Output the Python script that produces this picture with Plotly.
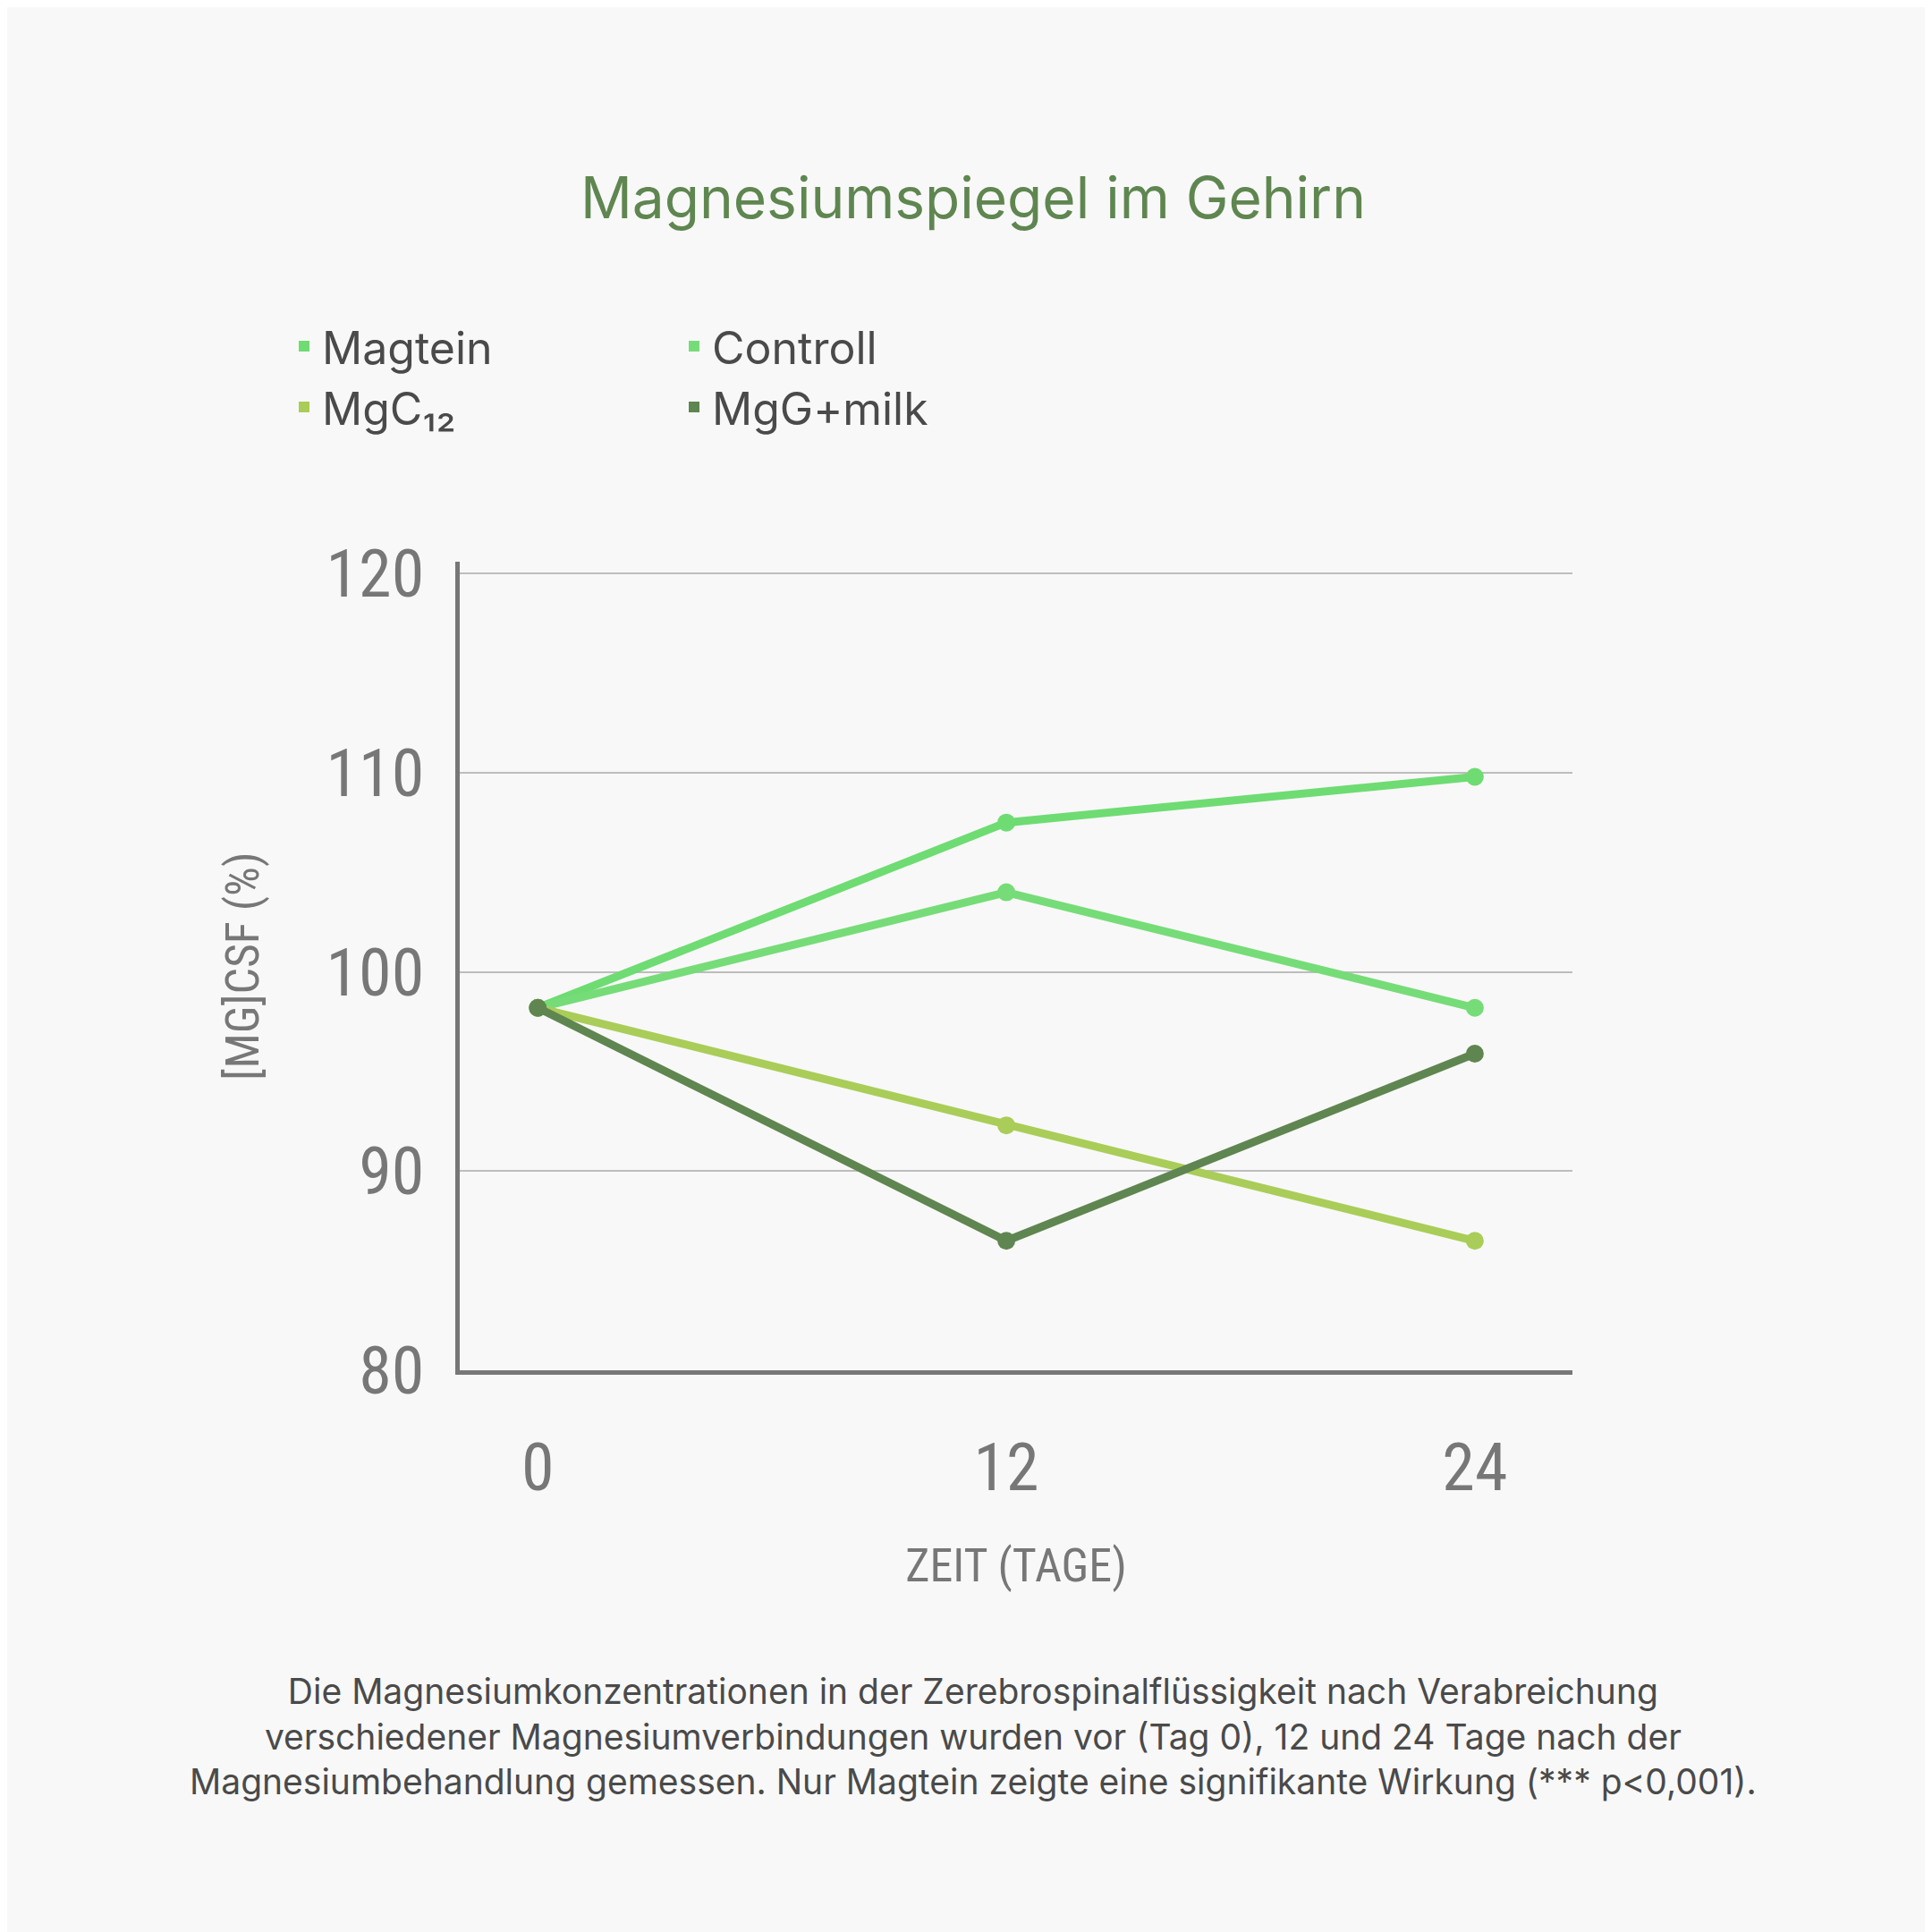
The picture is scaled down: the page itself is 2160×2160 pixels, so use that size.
import plotly.graph_objects as go

# --- data ---
tage = [0, 12, 24]
magtein = [98.2, 107.5, 109.8]
controll = [98.2, 104.0, 98.2]
mgcl2 = [98.2, 92.3, 86.5]
mgg_milk = [98.2, 86.5, 95.9]
names = ["Magtein", "Controll", "MgC₁₂", "MgG+milk"]
colors = ["#6edc72", "#76dc78", "#a9cd58", "#5f8650"]
y_ticks = [80, 90, 100, 110, 120]

W = 2160
NARROW = "Liberation Sans Narrow, Roboto Condensed, DejaVu Sans Condensed, sans-serif"

fig = go.Figure()

# draw order: lighter first, dark on top
for ys, name, col in zip([magtein, controll, mgcl2, mgg_milk], names, colors):
    fig.add_trace(go.Scatter(
        x=tage, y=ys, mode="lines+markers", name=name,
        line=dict(color=col, width=9),
        marker=dict(color=col, size=20),
        showlegend=False,
    ))

# square legend entries
for name, col in zip(names, colors):
    fig.add_trace(go.Scatter(
        x=[None], y=[None], mode="markers", name=name,
        marker=dict(color=col, size=40, symbol="square"),
    ))

fig.update_layout(
    width=W, height=W,
    paper_bgcolor="#f8f8f8", plot_bgcolor="#f8f8f8",
    margin=dict(l=506, r=410, t=620, b=636),
    title=dict(text="Magnesiumspiegel im Gehirn", x=0.5, xanchor="center",
               y=1 - 214 / W, yanchor="middle", yref="container",
               font=dict(family="Inter, sans-serif", size=64, color="#5f8650")),
    legend=dict(orientation="h", x=312 / W, y=1 - 413 / W, xref="container",
                yref="container", xanchor="left", yanchor="middle",
                entrywidth=391, entrywidthmode="pixels", itemsizing="constant",
                font=dict(family="Inter, sans-serif", size=50, color="#4a4a4a"),
                bgcolor="rgba(0,0,0,0)"),
    xaxis=dict(range=[-2.0, 26.5], tickvals=tage, showgrid=False, zeroline=False,
               showline=True, linecolor="#777777", linewidth=5, ticks="",
               ticklabelstandoff=40,
               tickfont=dict(family=NARROW, size=74, color="#777777"),
               title=dict(text="ZEIT (TAGE)", standoff=50,
                          font=dict(family=NARROW, size=52, color="#777777"))),
    yaxis=dict(range=[80, 120.6], tickvals=y_ticks, showgrid=True,
               gridcolor="#bdbdbd", gridwidth=2, zeroline=False,
               showline=True, linecolor="#777777", linewidth=5, ticks="",
               ticklabelstandoff=20,
               tickfont=dict(family=NARROW, size=74, color="#777777"),
               title=dict(text="[MG]CSF (%)", standoff=60,
                          font=dict(family=NARROW, size=52, color="#777777"))),
)

fig.add_annotation(
    text="Die Magnesiumkonzentrationen in der Zerebrospinalflüssigkeit nach Verabreichung<br>"
         "verschiedener Magnesiumverbindungen wurden vor (Tag 0), 12 und 24 Tage nach der<br>"
         "Magnesiumbehandlung gemessen. Nur Magtein zeigte eine signifikante Wirkung (*** p<0,001).",
    xref="paper", yref="paper", x=(1080 - 506) / (W - 506 - 410), y=-(1933 - 1524) / (1524 - 620),
    xanchor="center", yanchor="middle", showarrow=False, align="center",
    font=dict(family="Inter, sans-serif", size=39, color="#4a4a4a"),
)

fig.write_html("out.html")
